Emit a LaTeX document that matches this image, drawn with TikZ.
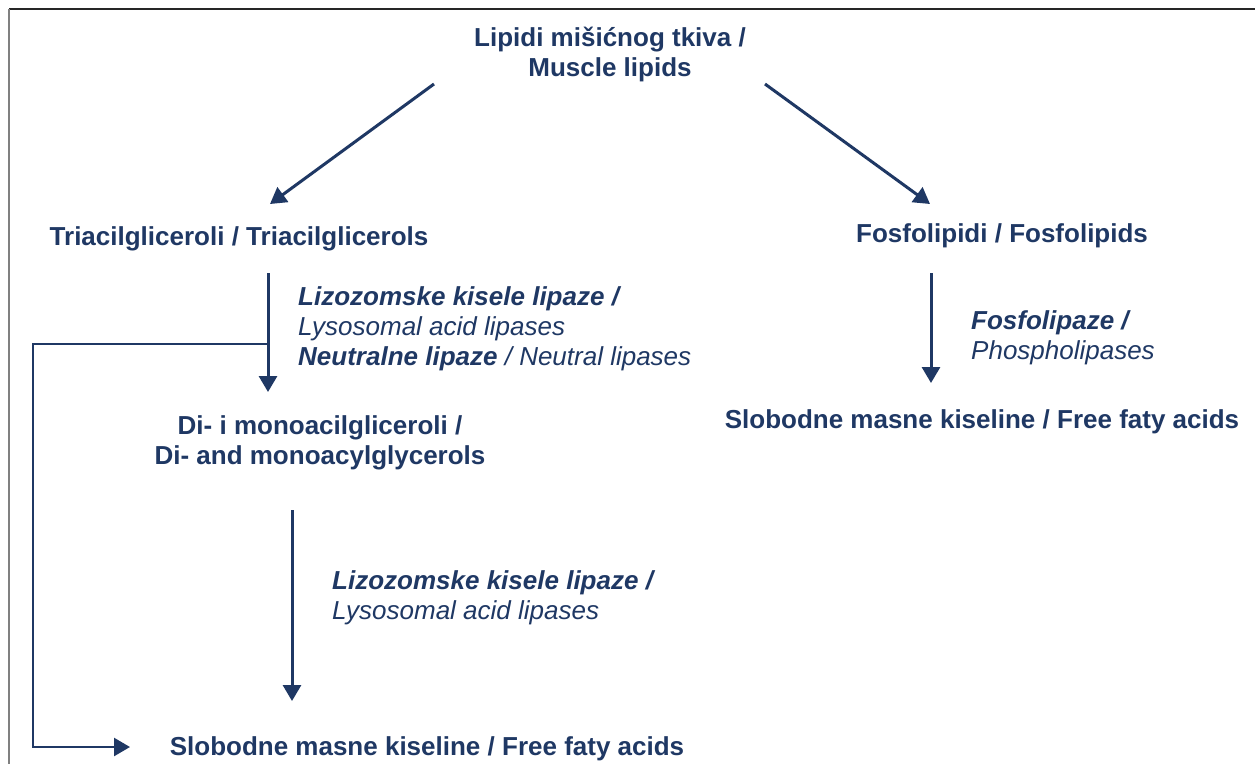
\documentclass[tikz,border=0pt]{standalone}
\usepackage{fontspec}
\setmainfont{Liberation Sans}
\usetikzlibrary{arrows.meta}
\definecolor{navy}{RGB}{31,56,100}
\begin{document}
\begin{tikzpicture}[x=1pt,y=-1pt,
 lbl/.style={font=\fontsize{26}{30}\selectfont\bfseries, text=navy, inner sep=0pt, align=center},
 enz/.style={font=\fontsize{26}{30}\selectfont\itshape, text=navy, inner sep=0pt, anchor=west},
 arr/.style={draw=navy, line width=3pt, -{Triangle[width=18pt,length=16pt]}},
 ]
\useasboundingbox (0,0) rectangle (1255,764);
\fill[white] (0,0) rectangle (1255,764);
\draw[line width=1.5pt, black!85] (9,9) -- (1255,9);
\draw[line width=1.5pt, black!50] (9,9) -- (9,764);

\node[lbl] (title) at (610,54) {Lipidi mišićnog tkiva /\\Muscle lipids};
\node[lbl] (tri) at (239,239) {Triacilgliceroli / Triacilglicerols};
\node[lbl] (fos) at (1002,236) {Fosfolipidi / Fosfolipids};
\node[lbl] (di) at (320,443) {Di- i monoacilgliceroli /\\Di- and monoacylglycerols};
\node[lbl] (sfa) at (427,749) {Slobodne masne kiseline / Free faty acids};
\node[lbl] (sfb) at (982,422) {Slobodne masne kiseline / Free faty acids};

\node[enz] (e1a) at (298,299) {\bfseries\itshape Lizozomske kisele lipaze /};
\node[enz] (e1b) at (298,329) {Lysosomal acid lipases};
\node[enz] (e1c) at (298,359) {\bfseries\itshape Neutralne lipaze \mdseries/ Neutral lipases};
\node[enz] (e2a) at (332,583) {\bfseries\itshape Lizozomske kisele lipaze /};
\node[enz] (e2b) at (332,613) {Lysosomal acid lipases};
\node[enz] (e3a) at (971,323) {\bfseries\itshape Fosfolipaze /};
\node[enz] (e3b) at (971,353) {Phospholipases};

\coordinate (t1) at (434,84);
\coordinate (t2) at (765,84);
\coordinate (tri1) at (270,204);
\coordinate (fos1) at (930,204);
\coordinate (tri2) at (268,273);
\coordinate (di1) at (268,392);
\coordinate (br) at (268,344);
\coordinate (di2) at (292,510);
\coordinate (sfa1) at (292,701);
\coordinate (sfa2) at (130,747);
\coordinate (fos2) at (931,273);
\coordinate (sfb1) at (931,383);

\draw[arr] (t1) -- (tri1);
\draw[arr] (t2) -- (fos1);
\draw[arr] (tri2) -- (di1);
\draw[arr] (di2) -- (sfa1);
\draw[arr] (fos2) -- (sfb1);
\draw[arr, line width=2.5pt] (br) -- (33,344) -- (33,747) -- (sfa2);
\end{tikzpicture}
\end{document}
